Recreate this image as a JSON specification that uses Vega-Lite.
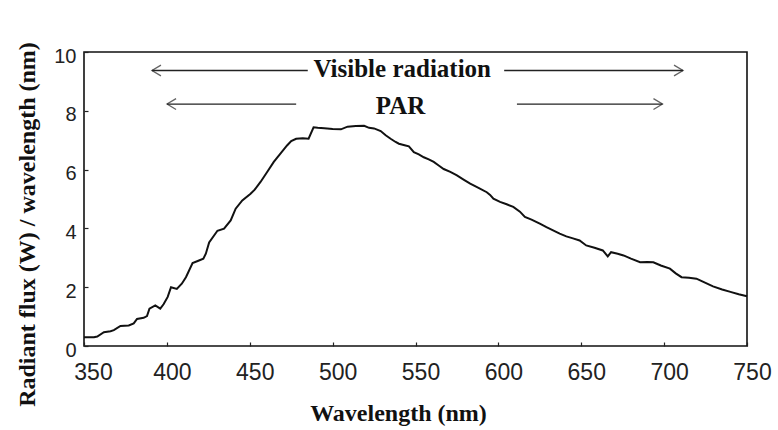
{
  "$schema": "https://vega.github.io/schema/vega-lite/v6.json",
  "width": 663,
  "height": 294,
  "autosize": {"type": "none"},
  "padding": {"left": 84, "top": 52, "right": 31, "bottom": 84},
  "background": "white",
  "config": {
    "view": {"stroke": "#111", "strokeWidth": 1.6},
    "axis": {
      "domain": false,
      "grid": false,
      "ticks": true,
      "tickColor": "#222",
      "tickSize": -4,
      "tickWidth": 1.2,
      "labelFont": "Liberation Sans",
      "labelColor": "#222",
      "titleFont": "Liberation Serif",
      "titleFontWeight": "bold",
      "titleColor": "#111",
      "titleFontSize": 24
    }
  },
  "datasets": {
    "spectrum": [
      {"wavelength": 350, "flux": 0.3}, {"wavelength": 356, "flux": 0.3}, {"wavelength": 358, "flux": 0.32},
      {"wavelength": 362, "flux": 0.47}, {"wavelength": 366, "flux": 0.5}, {"wavelength": 368, "flux": 0.54},
      {"wavelength": 372, "flux": 0.68}, {"wavelength": 377, "flux": 0.7}, {"wavelength": 380, "flux": 0.77},
      {"wavelength": 382, "flux": 0.92}, {"wavelength": 386, "flux": 0.96}, {"wavelength": 388, "flux": 1.02},
      {"wavelength": 389.5, "flux": 1.27}, {"wavelength": 393, "flux": 1.38}, {"wavelength": 396, "flux": 1.27},
      {"wavelength": 398, "flux": 1.42}, {"wavelength": 400.5, "flux": 1.67}, {"wavelength": 402.5, "flux": 2.0},
      {"wavelength": 406, "flux": 1.94}, {"wavelength": 409, "flux": 2.12}, {"wavelength": 411.5, "flux": 2.34},
      {"wavelength": 415.5, "flux": 2.82}, {"wavelength": 419, "flux": 2.9}, {"wavelength": 422, "flux": 2.97},
      {"wavelength": 423.5, "flux": 3.14}, {"wavelength": 425.5, "flux": 3.52}, {"wavelength": 430.5, "flux": 3.92},
      {"wavelength": 434.5, "flux": 3.99}, {"wavelength": 438.5, "flux": 4.27}, {"wavelength": 441.5, "flux": 4.67},
      {"wavelength": 445.5, "flux": 4.95}, {"wavelength": 450.5, "flux": 5.18}, {"wavelength": 453, "flux": 5.32},
      {"wavelength": 456.5, "flux": 5.58}, {"wavelength": 460.5, "flux": 5.92}, {"wavelength": 464.5, "flux": 6.26},
      {"wavelength": 468.5, "flux": 6.54}, {"wavelength": 472.5, "flux": 6.82}, {"wavelength": 475, "flux": 6.97},
      {"wavelength": 478, "flux": 7.05}, {"wavelength": 482, "flux": 7.07}, {"wavelength": 485.5, "flux": 7.05},
      {"wavelength": 488.5, "flux": 7.44}, {"wavelength": 491, "flux": 7.42}, {"wavelength": 495, "flux": 7.41},
      {"wavelength": 500, "flux": 7.38}, {"wavelength": 505, "flux": 7.37}, {"wavelength": 509, "flux": 7.46},
      {"wavelength": 514, "flux": 7.48}, {"wavelength": 519, "flux": 7.49}, {"wavelength": 522, "flux": 7.42},
      {"wavelength": 525, "flux": 7.4}, {"wavelength": 529, "flux": 7.31}, {"wavelength": 532, "flux": 7.17},
      {"wavelength": 535, "flux": 7.05}, {"wavelength": 538, "flux": 6.94}, {"wavelength": 540, "flux": 6.88},
      {"wavelength": 544, "flux": 6.82}, {"wavelength": 546, "flux": 6.79}, {"wavelength": 549, "flux": 6.59},
      {"wavelength": 552, "flux": 6.52}, {"wavelength": 555, "flux": 6.42}, {"wavelength": 558, "flux": 6.35},
      {"wavelength": 561, "flux": 6.26}, {"wavelength": 564, "flux": 6.14}, {"wavelength": 567, "flux": 6.02},
      {"wavelength": 571, "flux": 5.92}, {"wavelength": 575, "flux": 5.8}, {"wavelength": 579, "flux": 5.66},
      {"wavelength": 583, "flux": 5.52}, {"wavelength": 588, "flux": 5.38}, {"wavelength": 593, "flux": 5.23},
      {"wavelength": 595, "flux": 5.14}, {"wavelength": 597, "flux": 5.01}, {"wavelength": 601, "flux": 4.9},
      {"wavelength": 605, "flux": 4.82}, {"wavelength": 609, "flux": 4.73}, {"wavelength": 613, "flux": 4.57},
      {"wavelength": 616, "flux": 4.39}, {"wavelength": 620, "flux": 4.3}, {"wavelength": 625, "flux": 4.16},
      {"wavelength": 629, "flux": 4.04}, {"wavelength": 633, "flux": 3.93}, {"wavelength": 637, "flux": 3.82},
      {"wavelength": 641, "flux": 3.73}, {"wavelength": 645, "flux": 3.66}, {"wavelength": 649, "flux": 3.59},
      {"wavelength": 653, "flux": 3.42}, {"wavelength": 658, "flux": 3.34}, {"wavelength": 663, "flux": 3.25},
      {"wavelength": 666, "flux": 3.05}, {"wavelength": 668, "flux": 3.19}, {"wavelength": 672, "flux": 3.14},
      {"wavelength": 675.5, "flux": 3.08}, {"wavelength": 680, "flux": 2.97}, {"wavelength": 685.5, "flux": 2.85},
      {"wavelength": 690, "flux": 2.86}, {"wavelength": 693.5, "flux": 2.85}, {"wavelength": 698, "flux": 2.74},
      {"wavelength": 703.5, "flux": 2.63}, {"wavelength": 707, "flux": 2.47}, {"wavelength": 710.5, "flux": 2.34},
      {"wavelength": 715, "flux": 2.32}, {"wavelength": 719.5, "flux": 2.29}, {"wavelength": 724, "flux": 2.17},
      {"wavelength": 729.5, "flux": 2.03}, {"wavelength": 735, "flux": 1.92}, {"wavelength": 740, "flux": 1.84},
      {"wavelength": 745, "flux": 1.76}, {"wavelength": 750, "flux": 1.69}
    ],
    "arrows": [
      {"band": "Visible radiation", "from": 391, "to": 485, "level": 9.37},
      {"band": "Visible radiation", "from": 603.5, "to": 711.4, "level": 9.37},
      {"band": "PAR", "from": 400.1, "to": 478, "level": 8.23},
      {"band": "PAR", "from": 611.2, "to": 699, "level": 8.23}
    ],
    "heads": [
      {"band": "Visible radiation", "at": 391, "level": 9.37, "dir": "left"},
      {"band": "Visible radiation", "at": 711.4, "level": 9.37, "dir": "right"},
      {"band": "PAR", "at": 400.1, "level": 8.23, "dir": "left"},
      {"band": "PAR", "at": 699, "level": 8.23, "dir": "right"}
    ],
    "labels": [
      {"text": "Visible radiation", "at": 542, "level": 9.15},
      {"text": "PAR", "at": 541, "level": 7.89}
    ]
  },
  "layer": [
    {
      "data": {"name": "spectrum"},
      "mark": {"type": "line", "color": "#111", "strokeWidth": 2, "interpolate": "linear"},
      "encoding": {
        "x": {
          "field": "wavelength", "type": "quantitative",
          "scale": {"domain": [350, 750], "nice": false, "zero": false},
          "axis": {
            "values": [350, 400, 450, 500, 550, 600, 650, 700, 750],
            "title": "Wavelength (nm)",
            "labelFontSize": 23,
            "labelPadding": 19,
            "labelOffset": {"expr": "datum.value === 350 ? 9 : 5"},
            "labelFlush": false,
            "titleX": 314,
            "titleY": 74,
            "titleAnchor": null,
            "titleAlign": "center",
            "titleBaseline": "alphabetic"
          }
        },
        "y": {
          "field": "flux", "type": "quantitative",
          "scale": {"domain": [0, 10], "nice": false},
          "axis": {
            "values": [0, 2, 4, 6, 8, 10],
            "title": "Radiant flux (W) / wavelength (nm)",
            "labelFontSize": 20,
            "labelPadding": 12,
            "labelOffset": 4,
            "labelFlush": false,
            "titleX": -57,
            "titleY": 172,
            "titleAngle": -90,
            "titleAlign": "center",
            "titleBaseline": "middle"
          }
        }
      }
    },
    {
      "data": {"name": "arrows"},
      "mark": {"type": "rule", "color": "#222", "strokeWidth": 1.3},
      "encoding": {
        "x": {"field": "from", "type": "quantitative"},
        "x2": {"field": "to"},
        "y": {"field": "level", "type": "quantitative"}
      }
    },
    {
      "data": {"name": "heads"},
      "transform": [{"filter": "datum.dir === 'left'"}],
      "mark": {"type": "point", "shape": "M 1 -0.6 L 0 0 L 1 0.6", "filled": false, "color": "#222", "strokeWidth": 1.3, "size": 324},
      "encoding": {
        "x": {"field": "at", "type": "quantitative"},
        "y": {"field": "level", "type": "quantitative"}
      }
    },
    {
      "data": {"name": "heads"},
      "transform": [{"filter": "datum.dir === 'right'"}],
      "mark": {"type": "point", "shape": "M -1 -0.6 L 0 0 L -1 0.6", "filled": false, "color": "#222", "strokeWidth": 1.3, "size": 324},
      "encoding": {
        "x": {"field": "at", "type": "quantitative"},
        "y": {"field": "level", "type": "quantitative"}
      }
    },
    {
      "data": {"name": "labels"},
      "mark": {"type": "text", "font": "Liberation Serif", "fontWeight": "bold", "fontSize": 25, "color": "#111", "align": "center", "baseline": "alphabetic"},
      "encoding": {
        "x": {"field": "at", "type": "quantitative"},
        "y": {"field": "level", "type": "quantitative"},
        "text": {"field": "text"}
      }
    }
  ]
}
